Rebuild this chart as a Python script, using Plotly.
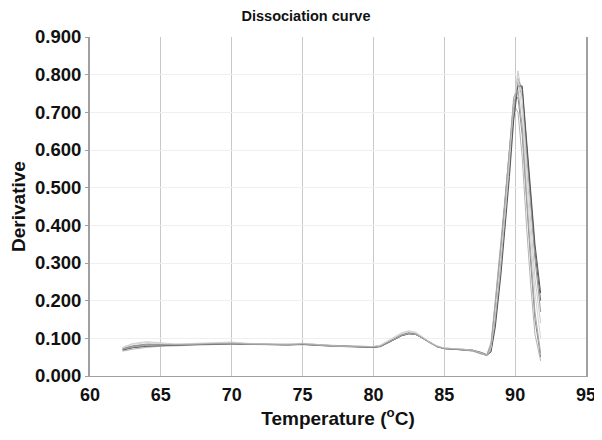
import plotly.graph_objects as go

temperature = [62.3, 63.0, 64.0, 65.0, 66.0, 67.0, 68.0, 69.0, 70.0, 71.0, 72.0, 73.0, 74.0, 75.0,
               76.0, 77.0, 78.0, 79.0, 80.0, 80.5, 81.0, 81.5, 82.0, 82.5, 83.0, 83.5, 84.0, 84.5,
               85.0, 86.0, 87.0, 87.6, 88.0, 88.3, 88.6, 89.0, 89.3, 89.6, 89.9, 90.2, 90.5, 90.8,
               91.1, 91.4, 91.8]

curve1 = [0.070, 0.076, 0.080, 0.081, 0.081, 0.082, 0.084, 0.085, 0.086, 0.085, 0.084, 0.083, 0.083, 0.084, 0.081, 0.079, 0.078, 0.077, 0.076, 0.079, 0.088, 0.098, 0.108, 0.113, 0.111, 0.100, 0.088, 0.078, 0.073, 0.071, 0.067, 0.060, 0.054, 0.068, 0.150, 0.300, 0.420, 0.560, 0.700, 0.790, 0.760, 0.610, 0.460, 0.330, 0.200]
curve2 = [0.074, 0.080, 0.085, 0.084, 0.083, 0.084, 0.086, 0.086, 0.087, 0.086, 0.085, 0.084, 0.084, 0.086, 0.083, 0.081, 0.080, 0.079, 0.078, 0.081, 0.090, 0.100, 0.110, 0.115, 0.112, 0.101, 0.088, 0.079, 0.074, 0.072, 0.069, 0.063, 0.057, 0.072, 0.160, 0.310, 0.430, 0.570, 0.710, 0.780, 0.740, 0.590, 0.440, 0.310, 0.170]
curve3 = [0.076, 0.086, 0.091, 0.088, 0.085, 0.086, 0.087, 0.088, 0.090, 0.087, 0.085, 0.084, 0.085, 0.087, 0.084, 0.081, 0.080, 0.079, 0.078, 0.082, 0.093, 0.105, 0.115, 0.120, 0.116, 0.103, 0.090, 0.080, 0.074, 0.072, 0.068, 0.062, 0.055, 0.066, 0.140, 0.290, 0.410, 0.560, 0.720, 0.810, 0.740, 0.560, 0.400, 0.260, 0.140]
curve4 = [0.066, 0.071, 0.076, 0.079, 0.080, 0.081, 0.083, 0.084, 0.085, 0.084, 0.083, 0.083, 0.082, 0.083, 0.081, 0.079, 0.078, 0.077, 0.077, 0.079, 0.087, 0.097, 0.107, 0.112, 0.110, 0.099, 0.087, 0.077, 0.072, 0.070, 0.066, 0.058, 0.056, 0.090, 0.200, 0.360, 0.480, 0.620, 0.720, 0.700, 0.580, 0.400, 0.240, 0.110, 0.040]
curve5 = [0.072, 0.079, 0.083, 0.083, 0.082, 0.083, 0.085, 0.085, 0.086, 0.085, 0.084, 0.083, 0.083, 0.085, 0.082, 0.080, 0.079, 0.078, 0.077, 0.080, 0.089, 0.099, 0.109, 0.114, 0.111, 0.100, 0.088, 0.078, 0.073, 0.071, 0.068, 0.061, 0.056, 0.080, 0.180, 0.340, 0.460, 0.600, 0.730, 0.740, 0.640, 0.460, 0.300, 0.150, 0.050]
curve6 = [0.069, 0.075, 0.079, 0.081, 0.082, 0.083, 0.084, 0.085, 0.086, 0.085, 0.084, 0.084, 0.083, 0.084, 0.082, 0.080, 0.078, 0.077, 0.076, 0.078, 0.087, 0.097, 0.107, 0.112, 0.110, 0.100, 0.088, 0.078, 0.073, 0.071, 0.068, 0.062, 0.055, 0.064, 0.130, 0.270, 0.390, 0.530, 0.680, 0.770, 0.770, 0.630, 0.480, 0.350, 0.220]
curve7 = [0.075, 0.084, 0.089, 0.087, 0.084, 0.085, 0.086, 0.087, 0.088, 0.086, 0.085, 0.084, 0.084, 0.086, 0.083, 0.081, 0.079, 0.078, 0.078, 0.081, 0.091, 0.102, 0.113, 0.118, 0.114, 0.102, 0.089, 0.079, 0.074, 0.072, 0.068, 0.061, 0.055, 0.075, 0.170, 0.320, 0.440, 0.590, 0.730, 0.790, 0.700, 0.520, 0.360, 0.220, 0.100]
curve8 = [0.071, 0.077, 0.081, 0.082, 0.083, 0.083, 0.084, 0.086, 0.087, 0.085, 0.084, 0.083, 0.083, 0.085, 0.082, 0.080, 0.079, 0.078, 0.077, 0.079, 0.088, 0.098, 0.108, 0.113, 0.110, 0.100, 0.087, 0.078, 0.073, 0.071, 0.067, 0.060, 0.055, 0.082, 0.190, 0.350, 0.470, 0.610, 0.740, 0.760, 0.660, 0.480, 0.320, 0.170, 0.060]

curves = [curve1, curve2, curve3, curve4, curve5, curve6, curve7, curve8]
colors = ["#666666", "#999999", "#cccccc", "#b4b4b4", "#8a8a8a", "#555555", "#d6d6d6", "#a6a6a6"]

x_ticks = [60, 65, 70, 75, 80, 85, 90, 95]
y_ticks = [0.0, 0.1, 0.2, 0.3, 0.4, 0.5, 0.6, 0.7, 0.8, 0.9]

fig = go.Figure()
for vals, col in zip(curves, colors):
    fig.add_trace(go.Scatter(x=temperature, y=vals, mode="lines",
                             line=dict(color=col, width=1), showlegend=False))

font_family = "Liberation Sans, Arial, sans-serif"
fig.update_layout(
    width=602, height=440,
    margin=dict(l=82, r=24, t=29, b=72, autoexpand=False),
    paper_bgcolor="white", plot_bgcolor="white",
    title=dict(text="<b>Dissociation curve</b>", x=0.495, xanchor="center", y=0.983, yanchor="middle",
               font=dict(family=font_family, size=14.5, color="#111111")),
    font=dict(family=font_family, color="#111111"),
)
fig.update_xaxes(
    range=[60, 95], tickvals=x_ticks, ticktext=[f"<b>{v}</b>" for v in x_ticks],
    tickfont=dict(size=18), showgrid=True, gridcolor="#c8c8c8", gridwidth=1,
    showline=True, linecolor="#a0a0a0", linewidth=1, zeroline=False, automargin=False,
    ticks="outside", ticklen=2, tickcolor="white",
    title=dict(text="<b>Temperature (<sup>o</sup>C)</b>", font=dict(size=19), standoff=6),
)
fig.update_yaxes(
    range=[0, 0.9], tickvals=y_ticks, ticktext=[f"<b>{v:.3f}</b>" for v in y_ticks],
    tickfont=dict(size=18.5), showgrid=True, gridcolor="#efefef", gridwidth=1,
    showline=True, linecolor="#a0a0a0", linewidth=2, mirror=True, zeroline=False, automargin=False,
    ticks="outside", ticklen=3, tickcolor="#a0a0a0",
    title=dict(text="<b>Derivative</b>", font=dict(size=19), standoff=18),
)

fig.write_html("out.html")
